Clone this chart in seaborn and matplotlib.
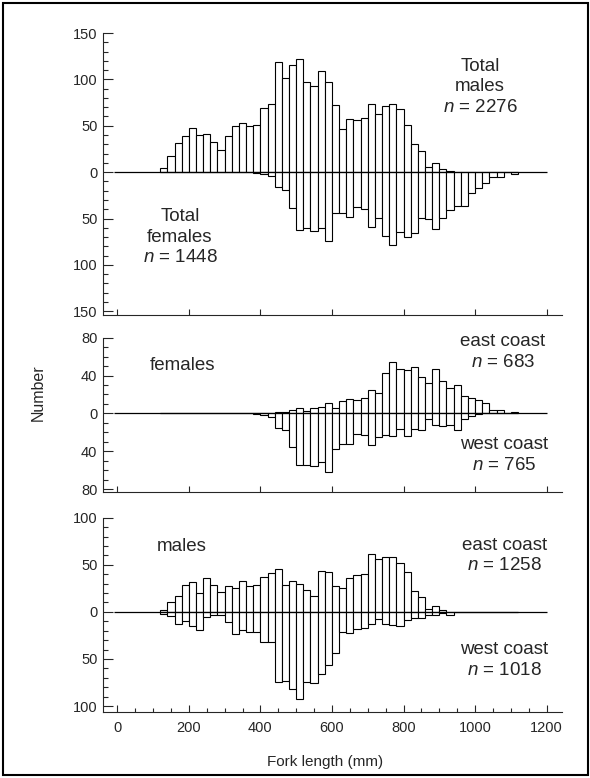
import numpy as np
import pandas as pd
import matplotlib
matplotlib.use("Agg")
import matplotlib.pyplot as plt
import seaborn as sns
from matplotlib.ticker import MultipleLocator, FuncFormatter
from matplotlib.patches import Rectangle

# ---------------- data (fork length bins of 20 mm, left edges) ----------------
bin_left = [120, 140, 160, 180, 200, 220, 240, 260, 280, 300,
            320, 340, 360, 380, 400, 420, 440, 460, 480, 500,
            520, 540, 560, 580, 600, 620, 640, 660, 680, 700,
            720, 740, 760, 780, 800, 820, 840, 860, 880, 900,
            920, 940, 960, 980, 1000, 1020, 1040, 1060, 1080, 1100]
bin_width = 20

total_males = [5, 17, 31, 39, 48, 40, 41, 32, 24, 39,
               50, 53, 50, 51, 69, 73, 119, 101, 115, 122,
               97, 93, 109, 97, 72, 46, 57, 56, 58, 74,
               63, 71, 73, 68, 51, 30, 23, 6, 10, 3,
               1, 0, 0, 0, 0, 0, 0, 0, 0, 0]
total_females = [0, 0, 0, 0, 0, 0, 0, 0, 0, 0,
                 0, 0, 0, 1, 2, 4, 16, 19, 39, 62,
                 60, 63, 60, 74, 44, 44, 48, 38, 40, 59,
                 49, 69, 79, 64, 70, 66, 49, 51, 61, 49,
                 41, 37, 36, 22, 17, 12, 5, 5, 0, 2]

females_east = [0, 0, 0, 0, 0, 0, 0, 0, 0, 0,
                0, 0, 0, 0, 0, 0, 2, 2, 4, 6,
                3, 6, 7, 11, 6, 13, 15, 14, 16, 25,
                22, 43, 54, 47, 46, 49, 39, 32, 47, 34,
                27, 30, 18, 16, 14, 11, 4, 4, 0, 1]
females_west = [0, 0, 0, 0, 0, 0, 0, 0, 0, 0,
                0, 0, 0, 1, 2, 4, 15, 17, 35, 55,
                55, 56, 51, 62, 38, 32, 32, 22, 23, 33,
                25, 23, 24, 16, 24, 16, 18, 6, 12, 13,
                12, 17, 6, 3, 1, 0, 0, 0, 0, 0]

males_east = [2, 11, 17, 29, 32, 20, 36, 29, 21, 27,
              25, 33, 28, 29, 37, 41, 46, 29, 33, 30,
              23, 17, 43, 42, 28, 25, 36, 39, 40, 61,
              56, 58, 58, 52, 42, 22, 16, 3, 6, 2,
              0, 0, 0, 0, 0, 0, 0, 0, 0, 0]
males_west = [2, 4, 13, 10, 15, 19, 5, 3, 3, 11,
              24, 19, 21, 21, 32, 32, 74, 73, 82, 92,
              74, 76, 66, 56, 44, 21, 22, 18, 17, 13,
              8, 13, 14, 15, 9, 7, 6, 3, 3, 1,
              3, 0, 0, 0, 0, 0, 0, 0, 0, 0]

x_ticks = [0, 200, 400, 600, 800, 1000, 1200]
panel1_yticks = [-150, -100, -50, 0, 50, 100, 150]
panel2_yticks = [-80, -40, 0, 40, 80]
panel3_yticks = [-100, -50, 0, 50, 100]

# ---------------- style ----------------
sns.set_style("ticks")
plt.rcParams["font.family"] = ["Liberation Sans", "DejaVu Sans"]
plt.rcParams["mathtext.fontset"] = "custom"
plt.rcParams["mathtext.rm"] = "Liberation Sans"
plt.rcParams["mathtext.it"] = "Liberation Sans:italic"
plt.rcParams["axes.linewidth"] = 0.8

W, H = 590, 778
fig = plt.figure(figsize=(W / 100, H / 100), dpi=100)

left = 103 / W
width = (562 - 103) / W


def fax(top_px, bot_px):
    return fig.add_axes([left, 1 - bot_px / H, width, (bot_px - top_px) / H])


ax1 = fax(33, 315)
ax2 = fax(337.7, 492)
ax3 = fax(517.7, 711.7)

edges = list(bin_left) + [bin_left[-1] + bin_width]
mids = np.array(bin_left) + bin_width / 2


def mirrored(ax, up, down):
    df = pd.DataFrame({"mid": mids, "up": np.array(up, float),
                       "down": -np.array(down, float)})
    for col in ["up", "down"]:
        sns.histplot(data=df, x="mid", weights=col, bins=edges, ax=ax,
                     stat="count", element="bars", fill=True,
                     facecolor="white", edgecolor="black",
                     linewidth=0.8, alpha=1, zorder=2)
    ax.hlines(0, -8, 1200, color="black", lw=0.9, zorder=3)


mirrored(ax1, total_males, total_females)
mirrored(ax2, females_east, females_west)
mirrored(ax3, males_east, males_west)

absfmt = FuncFormatter(lambda v, p: f"{abs(int(round(v)))}")

for ax, yt, ylim in [(ax1, panel1_yticks, (-154, 150)),
                     (ax2, panel2_yticks, (-83, 80)),
                     (ax3, panel3_yticks, (-106, 100))]:
    ax.set_xlim(-40, 1243)
    ax.set_ylim(*ylim)
    sns.despine(ax=ax)
    ax.set_xlabel("")
    ax.set_ylabel("")
    ax.set_yticks(yt)
    ax.yaxis.set_minor_locator(MultipleLocator(10))
    ax.yaxis.set_major_formatter(absfmt)
    ax.set_xticks(x_ticks)
    ax.tick_params(axis="both", which="both", direction="in", width=0.8)
    ax.tick_params(axis="y", which="major", length=7, labelsize=10.5, pad=4)
    ax.tick_params(axis="y", which="minor", length=3.5)
    ax.tick_params(axis="x", which="major", length=4)
    ax.patch.set_alpha(0)

ax1.tick_params(axis="x", labelbottom=False)
ax2.tick_params(axis="x", labelbottom=False)
ax3.xaxis.set_minor_locator(MultipleLocator(50))
ax3.tick_params(axis="x", which="major", length=5, labelsize=10.5, pad=7)
ax3.tick_params(axis="x", which="minor", length=3)

fs = 13.5
ax1.text(1014, 92, "Total\nmales\n$n$ = 2276", ha="center", va="center",
         fontsize=fs, linespacing=1.25)
ax1.text(175, -70, "Total\nfemales\n$n$ = 1448", ha="center", va="center",
         fontsize=fs, linespacing=1.25)
ax2.text(183, 51, "females", ha="center", va="center", fontsize=fs)
ax2.text(1078, 65, "east coast\n$n$ = 683", ha="center", va="center",
         fontsize=fs, linespacing=1.25)
ax2.text(1082, -44, "west coast\n$n$ = 765", ha="center", va="center",
         fontsize=fs, linespacing=1.25)
ax3.text(180, 69, "males", ha="center", va="center", fontsize=fs)
ax3.text(1082, 60, "east coast\n$n$ = 1258", ha="center", va="center",
         fontsize=fs, linespacing=1.25)
ax3.text(1082, -51, "west coast\n$n$ = 1018", ha="center", va="center",
         fontsize=fs, linespacing=1.25)

fig.text(38 / W, 1 - 393 / H, "Number", rotation=90, ha="center",
         va="center", fontsize=11.5)
fig.text(325 / W, 1 - 762 / H, "Fork length (mm)", ha="center",
         va="center", fontsize=11)

fig.add_artist(Rectangle((3 / W, 3 / H), 585 / W, 772 / H,
                         transform=fig.transFigure, fill=False,
                         lw=1.5, ec="black"))

fig.savefig("out.png", dpi=100)
